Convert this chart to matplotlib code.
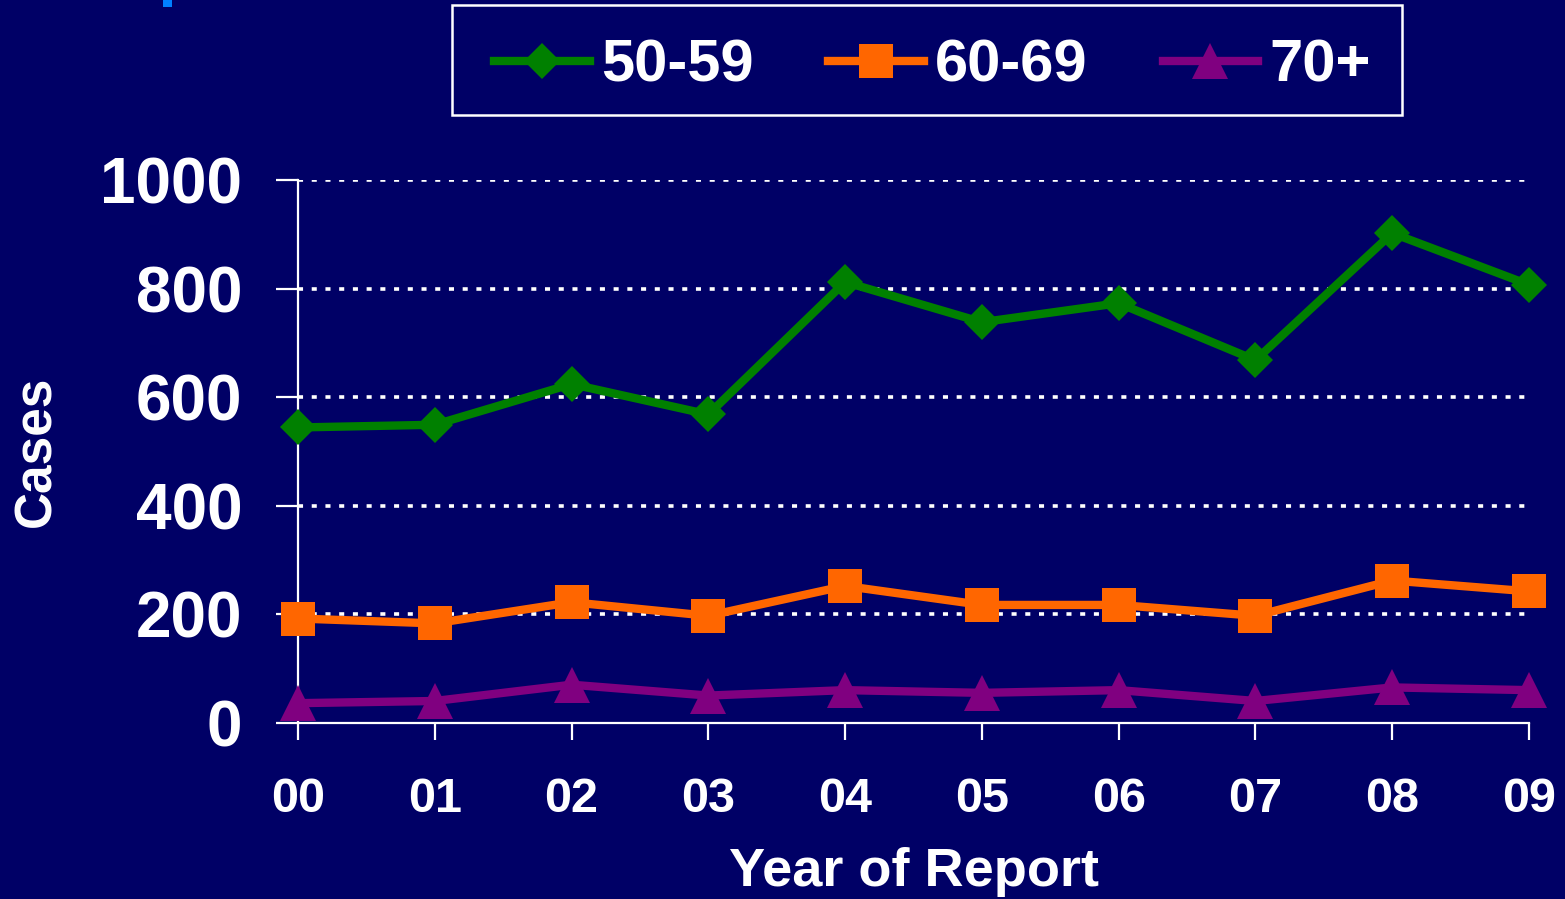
#!/usr/bin/env python3
"""
Line chart of reported cases by age group, 2000-2009.
"""
import matplotlib
matplotlib.use('Agg')
import matplotlib.pyplot as plt
from matplotlib.patches import Rectangle

years = ['00', '01', '02', '03', '04', '05', '06', '07', '08', '09']
age_groups = ['50-59', '60-69', '70+']
cases_50_59 = [544, 549, 624, 568, 812, 738, 773, 668, 902, 807]
cases_60_69 = [192, 183, 222, 197, 252, 217, 217, 197, 262, 242]
cases_70_plus = [36, 40, 70, 50, 60, 55, 60, 40, 65, 60]
y_ticks = [0, 200, 400, 600, 800, 1000]

bg = '#000066'
plt.rcParams['font.family'] = ['Liberation Sans', 'DejaVu Sans']
plt.rcParams['font.weight'] = 'bold'

fig = plt.figure(figsize=(15.65, 8.99), dpi=100, facecolor=bg)
ax = fig.add_axes([298 / 1565, 1 - 722.7 / 899, (1529 - 298) / 1565,
                   (722.7 - 180) / 899])
ax.set_facecolor(bg)

x = list(range(len(years)))
series = [
    (cases_50_59, '#008000', 'D', 18.5),
    (cases_60_69, '#FF6600', 's', 25),
    (cases_70_plus, '#800080', '^', 26),
]
for (vals, col, mk, ms), lab in zip(series, age_groups):
    ax.plot(x, vals, color=col, lw=6, marker=mk, markersize=ms,
            markeredgewidth=0, label=lab, zorder=3, clip_on=False)

ax.set_xlim(0, 9)
ax.set_ylim(0, 1000)
ax.set_xticks(x)
ax.set_xticklabels(years, fontsize=35, fontweight='bold', color='white')
ax.set_yticks(y_ticks)
ax.set_yticklabels([str(v) for v in y_ticks], fontsize=46,
                   fontweight='bold', color='white')

for v in y_ticks[1:]:
    ax.axhline(v, color='white', lw=2.6, linestyle=(0, (1.4, 2.4)), zorder=1)

for side in ['top', 'right']:
    ax.spines[side].set_visible(False)
for side in ['left', 'bottom']:
    ax.spines[side].set_color('white')
    ax.spines[side].set_linewidth(1.6)

ax.tick_params(axis='y', direction='out', length=16, width=1.6,
               color='white', pad=24)
ax.tick_params(axis='x', direction='out', length=12, width=1.6,
               color='white', pad=27)

ax.set_ylabel('Cases', fontsize=37, fontweight='bold', color='white',
              labelpad=28)
ax.set_xlabel('Year of Report', fontsize=39, fontweight='bold',
              color='white', labelpad=18)

# legend frame drawn separately so the entries can sit as in the original
fig.add_artist(Rectangle((452 / 1565, 1 - 115 / 899), 950 / 1565, 110 / 899,
                         transform=fig.transFigure, facecolor=bg,
                         edgecolor='white', lw=1.8, zorder=4))
handles, labels = ax.get_legend_handles_labels()
leg = fig.legend(handles, labels, loc='center',
                 bbox_to_anchor=(932.5 / 1565, 1 - 66 / 899),
                 bbox_transform=fig.transFigure, ncol=3, fontsize=43,
                 frameon=False, handlelength=1.6, handletextpad=0.19,
                 columnspacing=1.25, borderpad=0.45, borderaxespad=0)
leg.set_zorder(5)
for t in leg.get_texts():
    t.set_color('white')
    t.set_fontweight('bold')

# small blue mark at the top edge
fig.add_artist(Rectangle((163 / 1565, 1 - 7 / 899), 9 / 1565, 7 / 899,
                         transform=fig.transFigure, color='#0080FF', lw=0))

fig.savefig('out.png', dpi=100, facecolor=bg)
